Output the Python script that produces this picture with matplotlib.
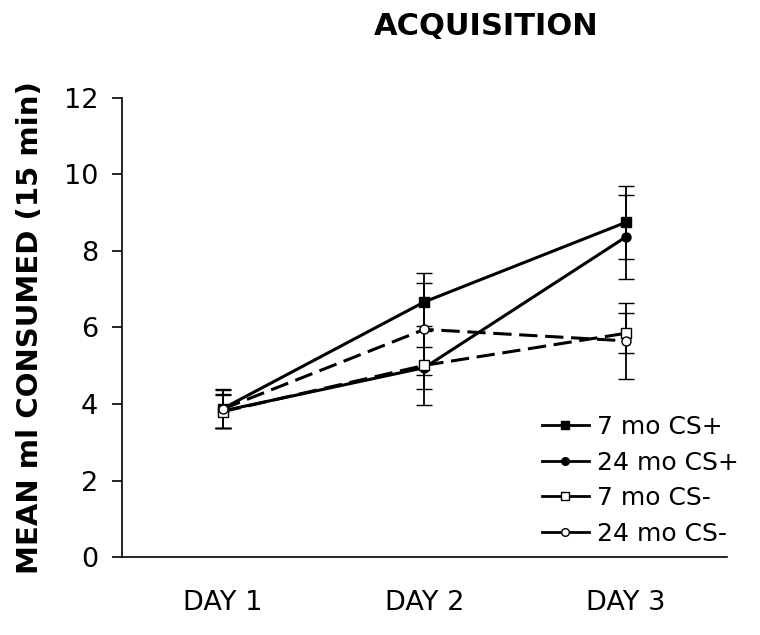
import matplotlib

matplotlib.use('Agg')

import matplotlib.pyplot as plt
from matplotlib.lines import Line2D

days = ['DAY 1', 'DAY 2', 'DAY 3']
labels = ['7 mo CS+', '24 mo CS+', '7 mo CS-', '24 mo CS-']

mo7_plus = [3.88, 6.67, 8.75]
mo24_plus = [3.82, 4.95, 8.37]
mo7_minus = [3.80, 5.01, 5.85]
mo24_minus = [3.87, 5.95, 5.65]

mo7_plus_err = [0.52, 0.75, 0.95]
mo24_plus_err = [0.45, 0.55, 1.10]
mo7_minus_err = [0.43, 1.04, 0.52]
mo24_minus_err = [0.50, 1.20, 1.00]

series = [mo7_plus, mo24_plus, mo7_minus, mo24_minus]
errors = [mo7_plus_err, mo24_plus_err, mo7_minus_err, mo24_minus_err]
markers = ['s', 'o', 's', 'o']
faces = ['black', 'black', 'white', 'white']
sizes = [7, 6.5, 7, 6.5]
styles = ['-', '-', '--', '--']

fig = plt.figure(figsize=(7.6, 6.35), dpi=100)
ax = fig.add_axes([0.1605, 0.1228, 0.796, 0.723])

x = [1, 2, 3]
for vals, err, m, fc, ms, ls in zip(series, errors, markers, faces, sizes, styles):
    eb = ax.errorbar(x, vals, yerr=err, color='black', lw=2.2, ls=ls,
                     marker=m, mfc=fc, mec='black', mew=1.0, ms=ms,
                     elinewidth=1.3, capsize=6, capthick=1.3, zorder=3)
    if ls == '--':
        eb.lines[0].set_dashes((6, 2.5))

ax.set_xlim(0.5, 3.5)
ax.set_ylim(0, 12)
ax.set_xticks(x)
ax.set_xticklabels(days)
ax.set_yticks(range(0, 13, 2))
ax.tick_params(axis='x', length=0, pad=24, labelsize=19.5)
ax.tick_params(axis='y', direction='out', length=7, width=1.2, labelsize=19.5, pad=10)
ax.spines['top'].set_visible(False)
ax.spines['right'].set_visible(False)
ax.spines['left'].set_linewidth(1.2)
ax.spines['bottom'].set_linewidth(1.2)
ax.set_ylabel('MEAN ml CONSUMED (15 min)', fontsize=21, fontweight='bold', labelpad=14)

fig.text(0.64, 0.958, 'ACQUISITION', fontsize=22, fontweight='bold', ha='center', va='center')

handles = [Line2D([], [], color='black', lw=2, marker=m, mfc=fc, mec='black', ms=ms - 1)
           for m, fc, ms in zip(markers, faces, sizes)]
ax.legend(handles, labels, loc='lower right', bbox_to_anchor=(1.056, -0.024), frameon=False,
          fontsize=18, handlelength=1.9, handletextpad=0.3, labelspacing=0.46)

fig.savefig('out.png', dpi=100)
